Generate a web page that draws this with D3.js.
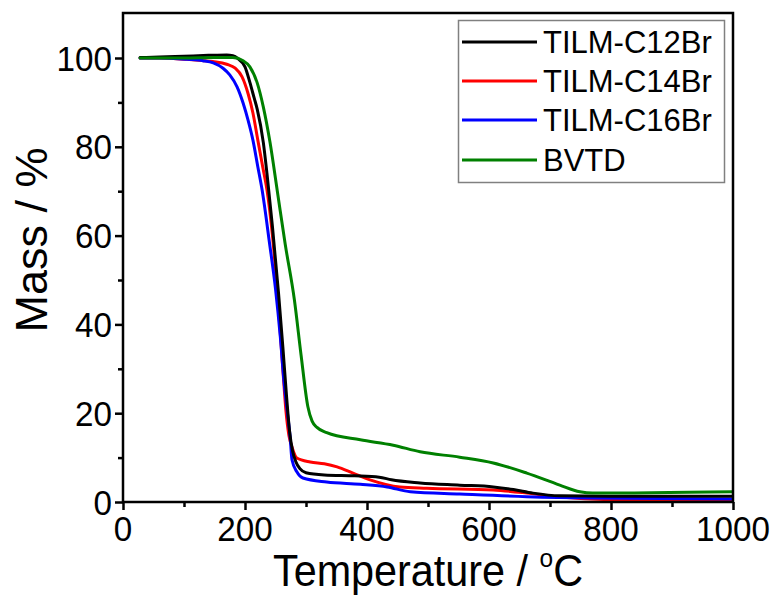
<!DOCTYPE html>
<html>
<head>
<meta charset="utf-8">
<script src="https://cdn.jsdelivr.net/npm/d3@7/dist/d3.min.js"></script>
<style>
  html, body { margin: 0; padding: 0; background: #fff; }
  svg { display: block; }
  text { font-family: "Liberation Sans", Arial, sans-serif; fill: #000; }
</style>
</head>
<body>
<svg id="chart" width="771" height="596"></svg>
<script>
// ---- data (temperature °C, mass %) ----
const seriesNames = ["TILM-C12Br", "TILM-C14Br", "TILM-C16Br", "BVTD"];
const seriesColors = ["#000000", "#ff0000", "#0000ff", "#008000"];

const c12Temp = [28, 60, 100, 140, 170, 180, 188, 200, 208, 215, 220, 230, 236, 245, 255, 262, 268, 273, 278, 283, 290, 300, 330, 380, 420, 440, 487, 552, 607, 640, 672, 716, 800, 1000];
const c12Mass = [100.1, 100.2, 100.4, 100.6, 100.7, 100.5, 99.9, 98, 94.5, 91, 88.5, 81, 74, 62, 47, 35, 24, 16, 11.5, 9.2, 7.5, 6.6, 6.1, 5.9, 5.6, 5.0, 4.3, 3.8, 3.4, 2.8, 2.0, 1.4, 1.3, 1.3];

const c14Temp = [28, 60, 105, 147, 170, 184, 195, 205, 213, 221, 229, 236, 245, 254, 262, 267, 272, 277, 285, 307, 330, 351, 377, 405, 454, 498, 607, 662, 716, 798, 1000];
const c14Mass = [100.0, 100.0, 99.7, 99.2, 98.6, 97.7, 95.8, 92, 87.6, 81.5, 75.5, 70.3, 60, 45.5, 30, 20.7, 15, 12.4, 9.9, 9.0, 8.6, 7.9, 6.5, 5.0, 3.4, 3.1, 2.7, 2.0, 1.1, 0.5, 0.3];

const c16Temp = [28, 60, 105, 131, 148, 164, 175, 187, 197, 205, 213, 221, 228, 240, 250, 258, 264, 269, 274, 277, 285, 295, 334, 389, 433, 471, 552, 662, 770, 1000];
const c16Mass = [100.0, 100.0, 99.7, 99.4, 98.9, 97.7, 96.2, 93.5, 89.8, 86, 81.5, 75.5, 70.3, 58.5, 48, 37, 27, 20.7, 14.6, 9.5, 6.8, 5.4, 4.5, 4.0, 3.4, 2.3, 1.8, 1.2, 0.9, 0.7];

const bvtdTemp = [28, 60, 100, 150, 180, 197, 208, 220, 230, 241, 253, 266, 281, 292, 303, 310, 318, 334, 389, 443, 487, 552, 607, 662, 716, 749, 770, 1000];
const bvtdMass = [100.0, 100.0, 100.0, 100.1, 100.1, 99.4, 98, 94.4, 89, 81, 70, 58, 45.5, 33, 21.5, 18.2, 16.8, 15.6, 14, 12.8, 11.3, 10.1, 8.8, 6.5, 3.8, 2.3, 2.0, 2.3];

const xTicks = [0, 200, 400, 600, 800, 1000];
const xMinorTicks = [100, 300, 500, 700, 900];
const yTicks = [0, 20, 40, 60, 80, 100];
const yMinorTicks = [10, 30, 50, 70, 90];
const xTitle = "Temperature / ";
const yTitle = "Mass / %";

const temps = [c12Temp, c14Temp, c16Temp, bvtdTemp];
const masses = [c12Mass, c14Mass, c16Mass, bvtdMass];

// ---- layout ----
const svg = d3.select("#chart");
const pL = 123, pR = 733, pT = 13, pB = 502;

const x = d3.scaleLinear().domain([0, 1000]).range([pL, pR]);
const y = d3.scaleLinear().domain([0, 100]).range([pB, pB - 444]);

// curves (draw order: red, blue, black, green)
const line = d3.line().x(d => x(d[0])).y(d => y(d[1])).curve(d3.curveMonotoneX);
const order = [1, 2, 0, 3];
svg.append("clipPath").attr("id", "clip").append("rect")
  .attr("x", pL).attr("y", pT).attr("width", pR - pL).attr("height", pB - pT);
const plot = svg.append("g").attr("clip-path", "url(#clip)");
order.forEach(i => {
  const pts = temps[i].map((t, k) => [t, masses[i][k]]);
  plot.append("path").datum(pts)
    .attr("d", line)
    .attr("fill", "none")
    .attr("stroke", seriesColors[i])
    .attr("stroke-width", 3)
    .attr("stroke-linejoin", "round")
    .attr("stroke-linecap", "round");
});

// frame
svg.append("rect").attr("x", pL).attr("y", pT).attr("width", pR - pL).attr("height", pB - pT)
  .attr("fill", "none").attr("stroke", "#000").attr("stroke-width", 2.5);

// axes (ticks only, labels drawn separately)
const xAxis = d3.axisBottom(x).tickValues(xTicks).tickSize(8).tickFormat("");
const xAxisMinor = d3.axisBottom(x).tickValues(xMinorTicks).tickSize(5).tickFormat("");
const yAxis = d3.axisLeft(y).tickValues(yTicks).tickSize(8).tickFormat("");
const yAxisMinor = d3.axisLeft(y).tickValues(yMinorTicks).tickSize(5).tickFormat("");
[[xAxis, `translate(0,${pB})`], [xAxisMinor, `translate(0,${pB})`],
 [yAxis, `translate(${pL},0)`], [yAxisMinor, `translate(${pL},0)`]].forEach(([ax, tr]) => {
  const g = svg.append("g").attr("transform", tr).call(ax);
  g.select(".domain").remove();
  g.selectAll("line").attr("stroke", "#000").attr("stroke-width", 2.5);
});

// tick labels
svg.append("g").selectAll("text").data(xTicks).join("text")
  .attr("transform", d => `translate(${x(d)},541) scale(0.95,1)`)
  .attr("text-anchor", "middle")
  .attr("font-size", 35)
  .text(d => d);
svg.append("g").selectAll("text").data(yTicks).join("text")
  .attr("transform", d => `translate(112,${y(d) + 12.5}) scale(0.95,1)`)
  .attr("text-anchor", "end")
  .attr("font-size", 35)
  .text(d => d);

// axis titles
const xt = svg.append("text")
  .attr("transform", "translate(428,586) scale(0.94,1)")
  .attr("text-anchor", "middle").attr("font-size", 44);
xt.append("tspan").text(xTitle);
xt.append("tspan").attr("font-size", 26).attr("dy", -19).text("o");
xt.append("tspan").attr("dy", 19).text("C");

svg.append("text")
  .attr("transform", "translate(47,240) rotate(-90)")
  .attr("text-anchor", "middle").attr("font-size", 45)
  .text(yTitle);

// legend
const lg = svg.append("g");
lg.append("rect").attr("x", 458.5).attr("y", 20.5).attr("width", 266).attr("height", 162)
  .attr("fill", "#fff").attr("stroke", "#808080").attr("stroke-width", 1.5);
const rowY = [42, 81, 120, 160];
seriesNames.forEach((name, i) => {
  lg.append("line").attr("x1", 462).attr("x2", 537).attr("y1", rowY[i]).attr("y2", rowY[i])
    .attr("stroke", seriesColors[i]).attr("stroke-width", 3);
  lg.append("text").attr("x", 543).attr("y", rowY[i] + 11)
    .attr("font-size", 31).text(name);
});
</script>
</body>
</html>
